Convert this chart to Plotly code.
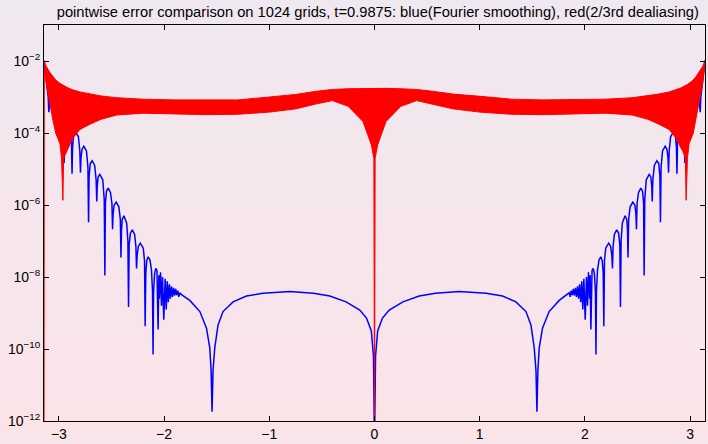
import plotly.graph_objects as go

# ---------------- data (log10 of pointwise error) ----------------
# red (2/3rd dealiasing): envelope of the dense grid oscillation
red_x = [-3.1416, -3.139, -3.12, -3.09, -3.06, -3.03, -2.99, -2.975, -2.962, -2.955, -2.93, -2.91,
         -2.87, -2.8, -2.7, -2.6, -2.45, -2.2, -1.9, -1.6, -1.3, -1.0, -0.75, -0.55, -0.4, -0.25,
         -0.11, -0.07, -0.03, -0.006, 0.0, 0.006, 0.03, 0.07, 0.11, 0.25, 0.4, 0.55, 0.75, 1.0,
         1.3, 1.6, 1.9, 2.2, 2.45, 2.6, 2.7, 2.8, 2.87, 2.91, 2.93, 2.955, 2.962, 2.975, 2.99,
         3.03, 3.06, 3.09, 3.12, 3.1416]
red_upper = [-1.98, -2.0, -2.15, -2.3, -2.42, -2.53, -2.62, -2.65, -2.68, -2.69, -2.72, -2.75,
             -2.8, -2.86, -2.92, -2.97, -3.02, -3.06, -3.08, -3.08, -3.08, -3.0, -2.93, -2.84, -2.79, -2.77,
             -2.76, -2.76, -2.76, -2.76, -2.76, -2.76, -2.76, -2.76, -2.76, -2.77, -2.79, -2.84, -2.92, -2.98,
             -3.06, -3.08, -3.08, -3.06, -3.02, -2.97, -2.92, -2.86, -2.8, -2.75, -2.72, -2.69, -2.68, -2.65, -2.62,
             -2.53, -2.42, -2.3, -2.15, -1.98]
red_lower = [-13.0, -2.3, -2.6, -3.1, -3.6, -4.0, -4.3, -4.7, -5.87, -4.7, -4.5, -4.4,
             -4.15, -3.9, -3.75, -3.62, -3.5, -3.45, -3.47, -3.49, -3.48, -3.42, -3.33, -3.19, -3.10, -3.26,
             -3.68, -4.0, -4.33, -4.7, -13.0, -4.7, -4.33, -4.0, -3.68, -3.26, -3.10, -3.19, -3.33, -3.42,
             -3.48, -3.49, -3.47, -3.45, -3.5, -3.62, -3.75, -3.9, -4.15, -4.4, -4.5, -4.7, -5.87, -4.7, -4.3,
             -4.0, -3.6, -3.1, -2.6, -2.05]

# blue (Fourier smoothing): right half x >= 0 (the error is symmetric in x)
blue_x_half = [0.0, 0.01, 0.03, 0.076, 0.14, 0.27, 0.425, 0.58, 0.805, 1.06, 1.217, 1.344, 1.44,
               1.487, 1.518, 1.535, 1.544, 1.553, 1.566, 1.597, 1.66, 1.756, 1.835,
               1.85, 1.86, 1.87, 1.88, 1.89, 1.90, 1.91, 1.92, 1.93, 1.94, 1.95, 1.96, 1.97, 1.98,
               1.99, 2.003, 2.015, 2.025, 2.034, 2.045, 2.05, 2.057, 2.068, 2.079, 2.09, 2.1, 2.105,
               2.11, 2.12, 2.135, 2.152, 2.165, 2.174, 2.18,
               2.186, 2.198, 2.226, 2.245, 2.256, 2.262,
               2.268, 2.28, 2.302, 2.32, 2.332, 2.338,
               2.344, 2.356, 2.382, 2.398, 2.405, 2.41,
               2.416, 2.43, 2.455, 2.475, 2.485, 2.49,
               2.496, 2.51, 2.532, 2.548, 2.558, 2.563,
               2.569, 2.583, 2.611, 2.627, 2.636, 2.640,
               2.646, 2.66, 2.684, 2.702, 2.713, 2.718,
               2.724, 2.738, 2.763, 2.78, 2.79, 2.795,
               2.801, 2.815, 2.842, 2.86, 2.87, 2.875,
               2.881, 2.895, 2.922, 2.938, 2.946, 2.95,
               2.956, 2.968, 2.991, 3.008, 3.018, 3.023,
               3.029, 3.04, 3.06, 3.08, 3.09, 3.096,
               3.102, 3.115, 3.13, 3.1416]
blue_log_half = [-12.6, -10.2, -9.5, -9.14, -8.92, -8.69, -8.53, -8.45, -8.40, -8.45, -8.53, -8.69, -8.96,
                 -9.33, -9.96, -10.6, -11.74, -10.6, -9.96, -9.42, -8.96, -8.65, -8.49,
                 -8.44, -8.55, -8.38, -8.5, -8.33, -8.52, -8.30, -8.55, -8.26, -8.6, -8.2, -8.7, -8.12, -8.9,
                 -8.05, -9.19, -8.0, -8.8, -7.87, -8.6, -7.95, -9.46, -7.82, -7.76, -7.9, -8.4, -10.15,
                 -8.4, -7.8, -7.52, -7.44, -7.55, -7.9, -9.37,
                 -7.55, -7.2, -7.06, -7.15, -7.4, -7.76,
                 -7.15, -6.82, -6.69, -6.78, -7.1, -8.83,
                 -7.0, -6.5, -6.30, -6.4, -6.7, -7.46,
                 -6.4, -6.05, -5.92, -6.0, -6.25, -6.67,
                 -5.95, -5.65, -5.53, -5.62, -5.95, -7.96,
                 -5.85, -5.3, -5.15, -5.22, -5.5, -5.9,
                 -5.3, -4.9, -4.77, -4.85, -5.2, -6.48,
                 -4.95, -4.5, -4.37, -4.45, -4.7, -5.10,
                 -4.5, -4.1, -3.98, -4.07, -4.4, -5.13,
                 -4.2, -3.78, -3.65, -3.73, -4.05, -4.83,
                 -3.85, -3.42, -3.28, -3.36, -3.65, -4.01,
                 -3.45, -3.08, -2.95, -3.02, -3.2, -3.42,
                 -3.0, -2.6, -2.3, -2.0]

title_text = ("pointwise error comparison on 1024 grids, t=0.9875: "
              "blue(Fourier smoothing), red(2/3rd dealiasing)")
x_ticks = [-3, -2, -1, 0, 1, 2, 3]
y_tick_exps = [-12, -10, -8, -6, -4, -2]

# ---------------- build traces ----------------
blue_x = [-v for v in blue_x_half[:0:-1]] + blue_x_half
blue_y = [10 ** e for e in blue_log_half[:0:-1] + blue_log_half]

poly_x = red_x + red_x[::-1]
poly_y = [10 ** e for e in red_upper] + [10 ** e for e in red_lower[::-1]]

fig = go.Figure()
fig.add_trace(go.Scatter(x=blue_x, y=blue_y, mode="lines",
                         line=dict(color="#0000ff", width=1.5), hoverinfo="skip"))
fig.add_trace(go.Scatter(x=poly_x, y=poly_y, mode="lines", fill="toself",
                         fillcolor="#ff0000", line=dict(color="#ff0000", width=1),
                         hoverinfo="skip"))

# background gradient (lavender top -> pink bottom)
W, H = 708, 444
L, R, T, B = 44, 2, 25, 16
pw, ph = W - L - R, H - T - B
top_c = (240, 232, 241)
bot_c = (251, 228, 232)
N = 37
shapes = []
for i in range(N):
    y0px = H * i / N
    y1px = H * (i + 1) / N
    f = (i + 0.5) / N
    c = tuple(round(top_c[k] + (bot_c[k] - top_c[k]) * f) for k in range(3))
    shapes.append(dict(type="rect", xref="paper", yref="paper", layer="below",
                       x0=-L / pw - 0.01, x1=1 + R / pw + 0.01,
                       y0=(H - B - y1px) / ph - 0.001, y1=(H - B - y0px) / ph + 0.001,
                       line=dict(width=0), fillcolor="rgb(%d,%d,%d)" % c))

font_family = "Liberation Sans, Arial, sans-serif"
fig.update_layout(
    width=W, height=H,
    margin=dict(l=L, r=R, t=T, b=B),
    paper_bgcolor="rgb(246,230,236)",
    plot_bgcolor="rgba(0,0,0,0)",
    showlegend=False,
    shapes=shapes,
    font=dict(family=font_family, size=14, color="black"),
    title=dict(text=title_text, x=0.505, xref="paper", xanchor="center",
               y=1 - 12 / H, yref="container", yanchor="middle",
               font=dict(family=font_family, size=14.7, color="black")),
    xaxis=dict(range=[-3.1416, 3.1416], tickvals=x_ticks, ticks="inside", ticklen=5,
               tickcolor="black", showline=True, linecolor="black", linewidth=1,
               mirror="ticks", showgrid=False, zeroline=False,
               tickfont=dict(size=14)),
    yaxis=dict(type="log", range=[-12, -1],
               tickvals=[10 ** e for e in y_tick_exps],
               ticktext=["10<sup>\u2212%d</sup>" % (-e) for e in y_tick_exps],
               ticks="inside", ticklen=5, tickcolor="black", showline=True,
               linecolor="black", linewidth=1, mirror="ticks", showgrid=False,
               zeroline=False, tickfont=dict(size=14)),
)

fig.write_html("out.html")
